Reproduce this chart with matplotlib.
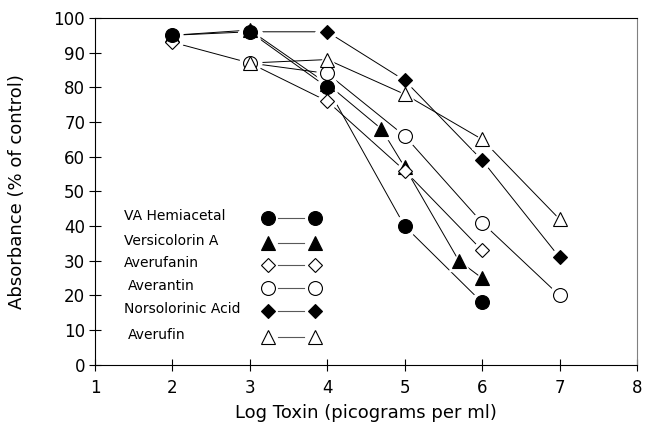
import matplotlib
matplotlib.use('Agg')
import matplotlib.pyplot as plt
import numpy as np

# data
va_x = [2, 3, 4, 5, 6]
va_y = [95, 96, 80, 40, 18]

vers_x = [2, 3, 4, 4.7, 5, 5.7, 6]
vers_y = [95, 96.5, 81, 68, 57, 30, 25]

avfan_x = [2, 3, 4, 5, 6]
avfan_y = [93, 87, 76, 56, 33]

avant_x = [3, 4, 5, 6, 7]
avant_y = [87, 84, 66, 41, 20]

nor_x = [3, 4, 5, 6, 7]
nor_y = [96, 96, 82, 59, 31]

avfin_x = [3, 4, 5, 6, 7]
avfin_y = [87, 88, 78, 65, 42]

labels = ['VA Hemiacetal', 'Versicolorin A', 'Averufanin',
          'Averantin', 'Norsolorinic Acid', 'Averufin']

series = [
    (vers_x, vers_y, '^', 'black'),
    (avfan_x, avfan_y, 'D', 'white'),
    (avant_x, avant_y, 'o', 'white'),
    (avfin_x, avfin_y, '^', 'white'),
    (nor_x, nor_y, 'D', 'black'),
    (va_x, va_y, 'o', 'black'),
]
sizes = {'o': 10, '^': 9.5, 'D': 7.5}

fig = plt.figure(figsize=(6.46, 4.37), dpi=100)
ax = fig.add_axes([0.147, 0.165, 0.839, 0.794])

# connecting lines first
for x, y, m, fc in series:
    ax.plot(x, y, color='black', linewidth=0.7, zorder=1)
# white halos to leave a gap between lines and markers
for x, y, m, fc in series:
    ax.plot(x, y, linestyle='none', marker=m, markersize=sizes[m] + 5,
            markerfacecolor='white', markeredgecolor='white', zorder=2)
for i, (x, y, m, fc) in enumerate(series):
    ax.plot(x, y, linestyle='none', marker=m, markersize=sizes[m],
            markerfacecolor=fc, markeredgecolor='black', markeredgewidth=0.8,
            zorder=3 + i)

# hand-drawn style legend
leg_marks = [('o', 'black'), ('^', 'black'), ('D', 'white'),
             ('o', 'white'), ('D', 'black'), ('^', 'white')]
leg_y = [42.4, 35.2, 28.8, 22.2, 15.6, 8.1]
leg_tx = [1.375, 1.375, 1.375, 1.43, 1.375, 1.43]
for lab, (m, fc), yy, tx in zip(labels, leg_marks, leg_y, leg_tx):
    ax.text(tx, yy + 0.6, lab, fontsize=10, ha='left', va='center')
    ax.plot([3.37, 3.7], [yy, yy], color='0.35', linewidth=0.8)
    ax.plot([3.235, 3.84], [yy, yy], linestyle='none', marker=m,
            markersize=sizes[m], markerfacecolor=fc,
            markeredgecolor='black', markeredgewidth=0.8)

ax.set_xlim(1, 8)
ax.set_ylim(0, 100)
ax.set_xticks(range(1, 9))
ax.set_yticks(range(0, 101, 10))
ax.tick_params(direction='inout', length=8, width=0.8, labelsize=12,
               colors='black')
ax.tick_params(axis='x', pad=6)
ax.tick_params(axis='y', pad=3)
for s in ax.spines.values():
    s.set_linewidth(0.8)
ax.spines['right'].set_color('0.5')

ax.set_xlabel('Log Toxin (picograms per ml)', fontsize=13, labelpad=5)
ax.set_ylabel('Absorbance (% of control)', fontsize=13, labelpad=20)

fig.savefig('out.png', dpi=100)
